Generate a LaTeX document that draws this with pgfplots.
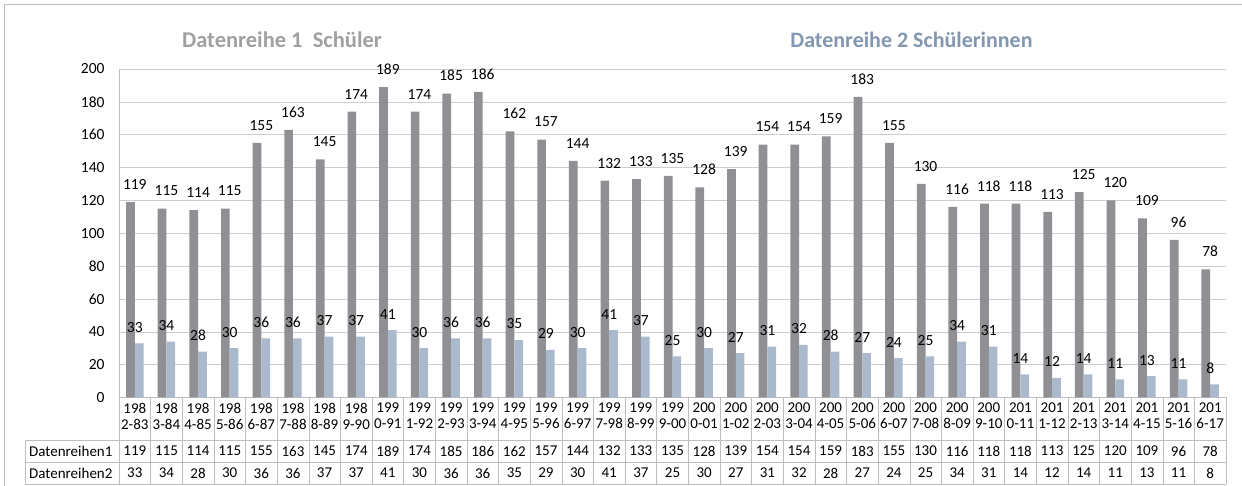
\documentclass[border=0pt]{standalone}
\usepackage{pgfplots}
\pgfplotsset{compat=1.18}
\usepackage{pgfplotstable}
\usepackage{fontspec}
\setmainfont{Carlito}
\definecolor{barA}{RGB}{143,143,148}
\definecolor{barB}{RGB}{171,185,205}
\definecolor{gridc}{RGB}{205,205,205}
\definecolor{tabc}{RGB}{190,190,190}
\definecolor{titleA}{RGB}{160,160,160}
\definecolor{titleB}{RGB}{132,151,176}
\newcommand{\tf}{\fontsize{15}{16}\selectfont}
\newcommand{\lf}{\fontsize{15.5}{17}\selectfont}

\pgfplotstableread{
x s1 s2
0 119 33
1 115 34
2 114 28
3 115 30
4 155 36
5 163 36
6 145 37
7 174 37
8 189 41
9 174 30
10 185 36
11 186 36
12 162 35
13 157 29
14 144 30
15 132 41
16 133 37
17 135 25
18 128 30
19 139 27
20 154 31
21 154 32
22 159 28
23 183 27
24 155 24
25 130 25
26 116 34
27 118 31
28 118 14
29 113 12
30 125 14
31 120 11
32 109 13
33 96 11
34 78 8
}\data

\begin{document}
\begin{tikzpicture}[x=1pt,y=1pt]
\path[use as bounding box] (0,0) rectangle (1242,486);
\draw[tabc] (4,-5) -- (4,482) -- (1250,482);
\node[font=\fontsize{22.5}{24}\selectfont\bfseries, text=titleA] at (282,446) {Datenreihe 1\ \ Schüler};
\node[font=\fontsize{22}{24}\selectfont\bfseries, text=titleB] at (911.5,446) {Datenreihe 2 Schülerinnen};
\begin{axis}[
  at={(119pt,88.5pt)}, anchor=south west,
  scale only axis, width=1107pt, height=328.5pt,
  xmin=-0.5, xmax=34.5, ymin=0, ymax=200,
  clip=false,
  /pgf/number format/assume math mode=true,
  axis x line*=bottom, axis y line*=left,
  axis line style={draw=tabc},
  major tick length=0pt,
  ytick={0,20,...,200},
  ymajorgrids, grid style={draw=gridc},
  yticklabel style={font=\fontsize{15.5}{16}\selectfont, xshift=-11pt},
  xtick={0,...,34},
  xticklabels={{198\\2-83},{198\\3-84},{198\\4-85},{198\\5-86},{198\\6-87},{198\\7-88},{198\\8-89},{198\\9-90},{199\\0-91},{199\\1-92},{199\\2-93},{199\\3-94},{199\\4-95},{199\\5-96},{199\\6-97},{199\\7-98},{199\\8-99},{199\\9-00},{200\\0-01},{200\\1-02},{200\\2-03},{200\\3-04},{200\\4-05},{200\\5-06},{200\\6-07},{200\\7-08},{200\\8-09},{200\\9-10},{201\\0-11},{201\\1-12},{201\\2-13},{201\\3-14},{201\\4-15},{201\\5-16},{201\\6-17}},
  xticklabel style={font=\tf, align=center, yshift=-2pt},
]
\addplot[ybar, bar width=8.7pt, bar shift=-4.35pt, fill=barA, draw=none,
  nodes near coords, every node near coord/.append style={font=\lf, text=black, yshift=9pt}]
  table[x=x, y=s1] {\data};
\addplot[ybar, bar width=8.7pt, bar shift=4.35pt, fill=barB, draw=none,
  nodes near coords, every node near coord/.append style={font=\lf, text=black, yshift=7.5pt}]
  table[x=x, y=s2] {\data};
\addplot[draw=none, mark=none, nodes near coords, point meta=explicit symbolic,
  every node near coord/.append style={anchor=center, font=\tf, text=black}]
  table[x=x, y expr=-32.57, meta=s1] {\data};
\addplot[draw=none, mark=none, nodes near coords, point meta=explicit symbolic,
  every node near coord/.append style={anchor=center, font=\tf, text=black}]
  table[x=x, y expr=-45.97, meta=s2] {\data};
\pgfplotsinvokeforeach{0,...,35}{
  \draw[tabc] (axis cs:#1-0.5,0) -- (axis cs:#1-0.5,-52.66);
}
\end{axis}
\draw[tabc] (25,46) -- (1226,46);
\draw[tabc] (25,24) -- (1226,24);
\draw[tabc] (25,2) -- (1226,2);
\draw[tabc] (25,46) -- (25,2);
\node[anchor=west, font=\tf, inner sep=0pt] at (29,35) {Datenreihen1};
\node[anchor=west, font=\tf, inner sep=0pt] at (29,13) {Datenreihen2};
\end{tikzpicture}
\end{document}
